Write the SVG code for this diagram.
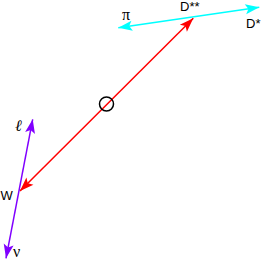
<svg xmlns="http://www.w3.org/2000/svg" width="262" height="261" viewBox="0 0 262 261">
<defs>
<style>
.sans{font-family:"Liberation Sans",Arial,sans-serif;font-size:13px;fill:#000}
.serif{font-family:"Liberation Serif","Times New Roman",serif;font-size:16px;fill:#000}
.ln{fill:none;stroke-width:1.5}
</style>
<marker id="aCyan" markerUnits="userSpaceOnUse" viewBox="-15 -6 16 12" refX="0" refY="0" markerWidth="16" markerHeight="12" orient="auto-start-reverse"><path d="M0,0 L-14,-5 L-11,0 L-14,5 Z" fill="#00FFFF"/></marker>
<marker id="aRed" markerUnits="userSpaceOnUse" viewBox="-15 -6 16 12" refX="0" refY="0" markerWidth="16" markerHeight="12" orient="auto-start-reverse"><path d="M0,0 L-14,-5 L-11,0 L-14,5 Z" fill="#FF0000"/></marker>
<marker id="aPurple" markerUnits="userSpaceOnUse" viewBox="-15 -6 16 12" refX="0" refY="0" markerWidth="16" markerHeight="12" orient="auto-start-reverse"><path d="M0,0 L-14,-5 L-11,0 L-14,5 Z" fill="#8000FF"/></marker>
</defs>
<rect width="262" height="261" fill="#fff"/>
<g id="connectors">
<line class="ln" x1="118.3" y1="27.7" x2="259.3" y2="7.3" stroke="#00FFFF" marker-start="url(#aCyan)" marker-end="url(#aCyan)"/>
<line class="ln" x1="20" y1="191" x2="193.3" y2="18.3" stroke="#FF0000" marker-start="url(#aRed)" marker-end="url(#aRed)"/>
<line class="ln" x1="32.7" y1="119.3" x2="6" y2="258.3" stroke="#8000FF" marker-start="url(#aPurple)" marker-end="url(#aPurple)"/>
</g>
<g id="vertex"><circle cx="106.5" cy="104" r="7" fill="none" stroke="#000" stroke-width="1.5"/></g>
<g id="Dss"><text class="sans" x="180" y="11">D**</text></g>
<g id="Ds"><text class="sans" x="246" y="28">D*</text></g>
<g id="pi"><text class="serif" x="122" y="20">π</text></g>
<g id="W"><text class="sans" x="0.5" y="200">W</text></g>
<g id="ell"><text class="serif" x="15" y="131" font-style="italic">ℓ</text></g>
<g id="nu"><text class="serif" x="13" y="257">ν</text></g>
</svg>
